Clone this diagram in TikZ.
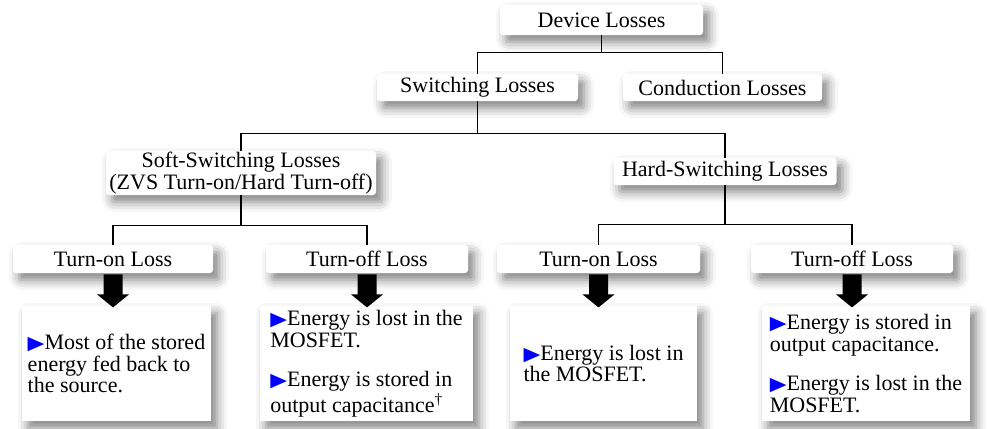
\documentclass[tikz,border=0pt]{standalone}
\usepackage{fontspec}
\setmainfont{Liberation Serif}
\newfontfamily\symbfont{DejaVu Sans}
\usetikzlibrary{shadows.blur}

\newcommand{\bul}{{\symbfont\color{blue}\fontsize{9.5}{9}\selectfont\scalebox{1.15}[1]{▶}}}

\tikzset{
	lossbox/.style={rectangle, rounded corners=1.5pt, fill=white, inner sep=0pt,
		font=\fontsize{11}{10}\selectfont,
		blur shadow={shadow xshift=3pt, shadow yshift=-3.5pt, shadow blur radius=5pt, shadow opacity=50}},
	notebox/.style={lossbox, rounded corners=0pt, align=left, font=\fontsize{11}{10.8}\selectfont},
	blockarrow/.pic={\fill[black] (-9.5,1) -- (9.5,1) -- (9.5,21) -- (16,21) -- (0,34) -- (-16,21) -- (-9.5,21) -- cycle;},
	link/.style={line width=0.75pt}
}

\begin{document}
\begin{tikzpicture}[x=0.5pt, y=-0.5pt]
		\useasboundingbox (0,0) rectangle (988,428);
		
		%top of the tree
		\node[lossbox, minimum width=101.5pt, minimum height=15pt] (dev) at (601.5,20) {Device Losses};
		\node[lossbox, minimum width=100.5pt, minimum height=13.5pt] (sw) at (477.5,87.5) {Switching Losses};
		\node[lossbox, minimum width=99.5pt, minimum height=13.5pt] (cond) at (722.5,87.5) {Conduction Losses};
		
		%soft and hard switching
		\node[lossbox, align=center, minimum width=135pt, minimum height=22pt] (soft) at (241,173) {Soft-Switching Losses\\(ZVS Turn-on/Hard Turn-off)};
		\node[lossbox, minimum width=111.5pt, minimum height=13.5pt] (hard) at (725,171.5) {Hard-Switching Losses};
		
		%turn-on and turn-off
		\node[lossbox, minimum width=100pt, minimum height=14pt] (son) at (113,259) {Turn-on Loss};
		\node[lossbox, minimum width=101pt, minimum height=14pt] (soff) at (367,259) {Turn-off Loss};
		\node[lossbox, minimum width=101.5pt, minimum height=14pt] (hon) at (598.5,259) {Turn-on Loss};
		\node[lossbox, minimum width=101pt, minimum height=14pt] (hoff) at (852,259) {Turn-off Loss};
		
		%notes
		\node[notebox, minimum width=94.5pt, minimum height=57.5pt] (nson) at (116.5,363.5) {\bul Most of the stored\\energy fed back to\\the source.};
		\node[notebox, minimum width=106.5pt, minimum height=57.5pt] (nsoff) at (366.5,363.5) {\bul Energy is lost in the\\MOSFET.\\[9pt]\bul Energy is stored in\\output capacitance\textsuperscript{†}};
		\node[notebox, minimum width=93.5pt, minimum height=57.5pt] (nhon) at (603.5,363.5) {\bul Energy is lost in\\the MOSFET.};
		\node[notebox, minimum width=104pt, minimum height=57.5pt] (nhoff) at (866,363.5) {\bul Energy is stored in\\output capacitance.\\[9pt]\bul Energy is lost in the\\MOSFET.};
		
		%arrows
		\pic at (son.south) {blockarrow};
		\pic at (soff.south) {blockarrow};
		\pic at (hon.south) {blockarrow};
		\pic at (hoff.south) {blockarrow};
		
		%links
		\draw[link] (dev.south) -- ++(0,17) coordinate (b1) -| (sw.north);
		\draw[link] (b1) -| (cond.north);
		\draw[link] (sw.south) -- ++(0,32) coordinate (b2) -| (soft.north);
		\draw[link] (b2) -| (hard.north);
		\draw[link] (soft.south) -- ++(0,30) coordinate (b3) -| (son.north);
		\draw[link] (b3) -| (soff.north);
		\draw[link] (hard.south) -- ++(0,39) coordinate (b4) -| (hon.north);
		\draw[link] (b4) -| (hoff.north);
	\end{tikzpicture}
\end{document}
